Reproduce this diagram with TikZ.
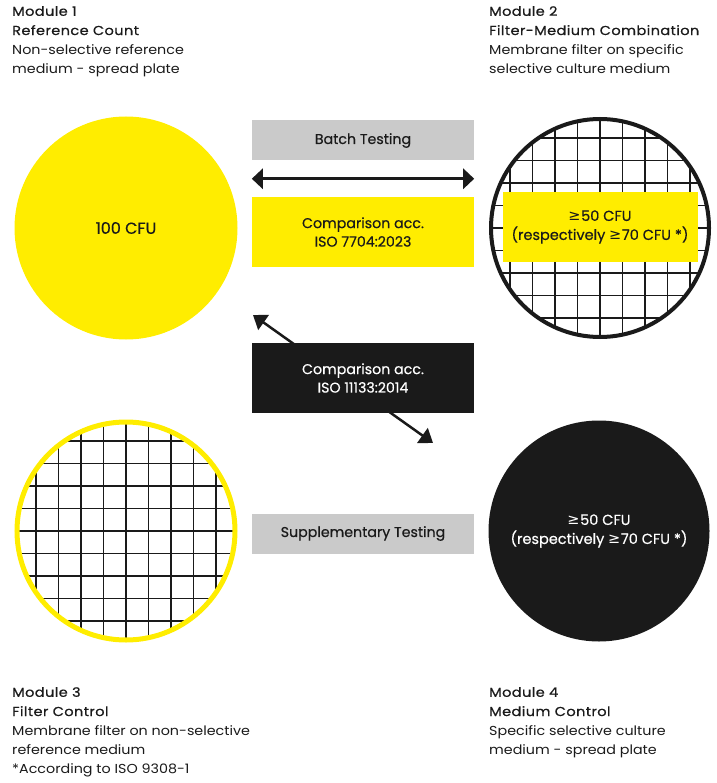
\documentclass[tikz,border=0pt]{standalone}
\usepackage{fontspec}
\setmainfont{Poppins}[FakeStretch=1.1]
\newfontfamily\medfont{Poppins}[FakeBold=0.6, FakeStretch=1.12, LetterSpace=3]
\newfontfamily\boxfont{Poppins}[FakeBold=0.5]
\newfontfamily\symbfont{DejaVu Sans}
\usetikzlibrary{positioning, arrows.meta, calc}
\definecolor{signalyellow}{HTML}{FFED00}
\definecolor{nearblack}{HTML}{1A1A1A}
\definecolor{lightgrey}{HTML}{CACACA}
\newcommand{\geqsym}{{\symbfont ≥}\kern0.5pt}

\tikzset{
  plate/.style={circle, minimum size=218pt, inner sep=0pt, font=\boxfont\fontsize{14.5}{19}\selectfont, align=center},
  meshline/.style={line width=1.2pt, nearblack},
  meshplate/.style={path picture={%
      \foreach \k in {-5,...,5}{%
        \draw[meshline] ([xshift=\k*22.5pt]path picture bounding box.north) -- ([xshift=\k*22.5pt]path picture bounding box.south);
        \draw[meshline] ([yshift=\k*22.5pt]path picture bounding box.west) -- ([yshift=\k*22.5pt]path picture bounding box.east);
      }}},
  labelbox/.style={minimum width=222pt, inner sep=0pt, font=\boxfont\fontsize{14.2}{18.5}\selectfont, align=center, text=nearblack},
  moduletext/.style={anchor=north west, inner sep=0pt, align=left, font=\fontsize{13}{19.2}\selectfont, text=nearblack},
  twoway/.style={{Triangle[length=11pt,width=20pt]}-{Triangle[length=11pt,width=20pt]}, line width=3pt, nearblack},
}

\begin{document}
\begin{tikzpicture}[x=1pt, y=-1pt]
  \path[use as bounding box] (0,0) rectangle (716,783);

  % module texts
  \node[moduletext] (mod1) at (12,6) {{\medfont Module 1}\\{\medfont Reference Count}\\Non-selective reference\\medium - spread plate};
  \node[moduletext] (mod2) at (489,6) {{\medfont Module 2}\\{\medfont Filter-Medium Combination}\\Membrane filter on specific\\selective culture medium};
  \node[moduletext] (mod3) at (12,687) {{\medfont Module 3}\\{\medfont Filter Control}\\Membrane filter on non-selective\\reference medium\\*According to ISO 9308-1};
  \node[moduletext] (mod4) at (489,687) {{\medfont Module 4}\\{\medfont Medium Control}\\Specific selective culture\\medium - spread plate};

  % plates
  \node[plate, fill=signalyellow, minimum size=223pt, text=nearblack, font=\boxfont\fontsize{16}{19}\selectfont] (refcount) at (126,228) {100 CFU};
  \node[plate, meshplate, draw=nearblack, line width=4pt] (filtermedium) at (600,228) {};
  \node[plate, fill=signalyellow, minimum width=195pt, minimum height=70pt, rectangle, text=nearblack] (fmcount) at (600,227)
    {\geqsym50 CFU\\(respectively \geqsym70 CFU *)};
  \node[plate, meshplate, draw=signalyellow, line width=5pt] (filterctrl) at (126,531) {};
  \node[plate, fill=nearblack, minimum size=221pt, text=white] (mediumctrl) at (599,531)
    {\geqsym50 CFU\\(respectively \geqsym70 CFU *)};

  % comparison boxes
  \node[labelbox, fill=lightgrey, minimum height=40pt] (batch) at (363,140.5) {Batch Testing};
  \node[labelbox, fill=signalyellow, minimum height=70pt] (iso7704) at (363,232) {Comparison acc.\\ISO 7704:2023};
  \draw[twoway] ($(batch.south west)!0.5!(iso7704.north west)$) -- ($(batch.south east)!0.5!(iso7704.north east)$);

  \coordinate (diagstart) at (253,315);
  \coordinate (diagend) at (433,443);
  \draw[twoway, line width=2.5pt, {Triangle[length=13pt,width=18pt]}-{Triangle[length=13pt,width=18pt]}] (diagstart) -- (diagend);
  \node[labelbox, fill=nearblack, text=white, minimum height=70pt] (iso11133) at (363,378) {Comparison acc.\\ISO 11133:2014};

  \node[labelbox, fill=lightgrey, minimum height=40pt] (supp) at (363,533.5) {Supplementary Testing};
\end{tikzpicture}
\end{document}
